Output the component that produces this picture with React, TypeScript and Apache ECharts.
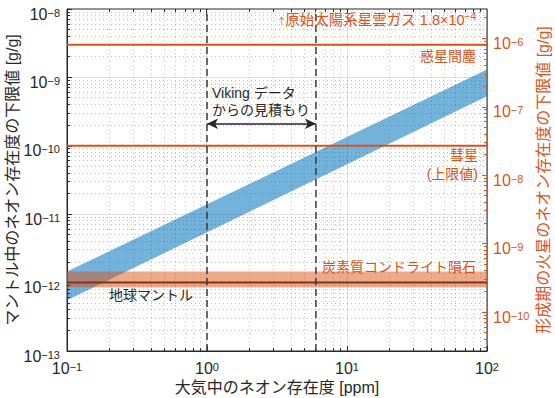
import React, { useEffect, useRef } from 'react';
import * as echarts from 'echarts';

const FONT = "'Liberation Sans', 'Noto Sans CJK JP', sans-serif";
const ORANGE = '#D95319';
const DARK = '#262626';

// axis ranges
const xRange = [0.1, 100];
const leftRange = [1e-13, 1e-8];
const rightOffsetDecades = 2.43;
const rightRange = [leftRange[0] * Math.pow(10, rightOffsetDecades), leftRange[1] * Math.pow(10, rightOffsetDecades)];

// blue band: estimate from Viking data (mantle Ne lower limit vs atmospheric Ne)
const bandX = [0.1, 100];
const bandLower = [5.5e-13, 5.3e-10];
const bandUpper = [1.45e-12, 1.3e-9];

// reference levels
const dustLimit = 3e-9;
const cometLimit = 1e-10;
const chondriteValue = 1e-12;
const chondriteRange = [0.85e-12, 1.45e-12];
const vikingRange = [1, 6];
const vikingArrowY = 2.1e-10;

// tick helpers (axis structure)
const minorOf = (lo: number, hi: number) => {
  const out: number[] = [];
  for (let e = Math.floor(Math.log10(lo) + 1e-9); e < Math.ceil(Math.log10(hi) - 1e-9); e++) {
    for (let k = 2; k <= 9; k++) {
      const v = k * Math.pow(10, e);
      if (v > lo * 1.0001 && v < hi * 0.9999) out.push(v);
    }
  }
  return out;
};
const majorOf = (lo: number, hi: number) => {
  const out: number[] = [];
  for (let e = Math.ceil(Math.log10(lo) - 1e-9); e <= Math.floor(Math.log10(hi) + 1e-9); e++) {
    const v = Math.pow(10, e);
    if (v > lo * 1.0001 && v < hi * 0.9999) out.push(v);
  }
  return out;
};
const xMinor = minorOf(xRange[0], xRange[1]);
const xMajor = majorOf(xRange[0], xRange[1]);
const yMinor = minorOf(leftRange[0], leftRange[1]);
const yMajor = majorOf(leftRange[0], leftRange[1]);
const rMinor = minorOf(rightRange[0], rightRange[1]);

const powLabel = (v: number) => {
  const e = Math.log10(v);
  const r = Math.round(e);
  if (Math.abs(e - r) > 1e-3) return '';
  return `{b|10}{s|${r < 0 ? '\u2212' + -r : r}}`;
};
const richFor = (color: string) => ({
  b: { fontSize: 16, color, fontFamily: FONT, lineHeight: 18, verticalAlign: 'bottom' },
  s: { fontSize: 11, color, fontFamily: FONT, lineHeight: 11, verticalAlign: 'top', padding: [3, 0, 12, 0] },
});

const px = (v: number) => Math.round(v - 0.5) + 0.5;

const option: any = {
  animation: false,
  backgroundColor: '#ffffff',
  textStyle: { fontFamily: FONT },
  grid: {
    left: 67, right: 68, top: 9, bottom: 47, show: true, borderColor: DARK, borderWidth: 1,
    backgroundColor: 'transparent', containLabel: false, outerBoundsMode: 'none',
  },
  xAxis: {
    type: 'log', logBase: 10, min: xRange[0], max: xRange[1],
    name: '大気中のネオン存在度 [ppm]', nameLocation: 'middle', nameGap: 28, nameMoveOverlap: false,
    nameTextStyle: { fontSize: 16, color: DARK, fontFamily: FONT },
    axisLine: { show: true, lineStyle: { color: DARK, width: 1 } },
    axisTick: { show: true, inside: true, length: 5, lineStyle: { color: DARK } },
    axisLabel: { formatter: powLabel, rich: richFor(DARK), margin: 8, interval: 0 },
    splitLine: { show: false },
  },
  yAxis: [
    {
      type: 'log', logBase: 10, min: leftRange[0], max: leftRange[1], position: 'left',
      name: 'マントル中のネオン存在度の下限値 [g/g]', nameLocation: 'middle', nameGap: 47, nameMoveOverlap: false,
      nameTextStyle: { fontSize: 16, color: DARK, fontFamily: FONT },
      axisLine: { show: true, lineStyle: { color: DARK, width: 1 } },
      axisTick: { show: true, inside: true, length: 5, lineStyle: { color: DARK } },
      axisLabel: { formatter: powLabel, rich: richFor(DARK), margin: 7, interval: 0, padding: [8, 0, 0, 0] },
      splitLine: { show: false },
    },
    {
      type: 'log', logBase: 10, min: rightRange[0], max: rightRange[1], position: 'right',
      name: '形成期の火星のネオン存在度の下限値 [g/g]', nameLocation: 'middle', nameGap: 48, nameMoveOverlap: false,
      nameTextStyle: { fontSize: 16, color: ORANGE, fontFamily: FONT },
      axisLine: { show: true, lineStyle: { color: ORANGE, width: 1 } },
      axisTick: { show: true, inside: true, length: 5, lineStyle: { color: ORANGE } },
      axisLabel: { formatter: powLabel, rich: richFor(ORANGE), margin: 6, interval: 0, showMinLabel: false, showMaxLabel: false, padding: [8, 0, 0, 0] },
      splitLine: { show: false },
    },
  ],
  series: [
    {
      type: 'custom', name: 'band', z: 1, silent: true,
      data: [[bandX[0], bandLower[0]]],
      renderItem: (params: any, api: any) => {
        const top = bandX.map((x, i) => api.coord([x, bandUpper[i]]));
        const bot = bandX.map((x, i) => api.coord([x, bandLower[i]])).reverse();
        return { type: 'polygon', shape: { points: [...top, ...bot] }, style: { fill: 'rgba(0,114,189,0.55)' } };
      },
    },
    {
      type: 'custom', name: 'chondriteBand', z: 2, silent: true,
      data: [[xRange[0], chondriteRange[0]]],
      renderItem: (params: any, api: any) => {
        const a = api.coord([xRange[0], chondriteRange[1]]);
        const b = api.coord([xRange[1], chondriteRange[0]]);
        return { type: 'rect', shape: { x: a[0], y: a[1], width: b[0] - a[0], height: b[1] - a[1] }, style: { fill: 'rgba(217,83,25,0.5)' } };
      },
    },
    {
      type: 'custom', name: 'grid', z: 3, silent: true,
      data: [[xRange[0], leftRange[0]]],
      renderItem: (params: any, api: any) => {
        const cs = params.coordSys;
        const x0 = cs.x, y0 = cs.y, x1 = cs.x + cs.width, y1 = cs.y + cs.height;
        const ch: any[] = [];
        const dotted = { stroke: 'rgba(60,60,60,0.32)', lineWidth: 1, lineDash: [1, 3] };
        const solid = { stroke: 'rgba(60,60,60,0.15)', lineWidth: 1 };
        const tick = { stroke: DARK, lineWidth: 1 };
        xMinor.forEach((v) => {
          const p = px(api.coord([v, leftRange[0]])[0]);
          ch.push({ type: 'line', shape: { x1: p, y1: y0, x2: p, y2: y1 }, style: dotted });
          ch.push({ type: 'line', shape: { x1: p, y1: y1, x2: p, y2: y1 - 3 }, style: tick });
          ch.push({ type: 'line', shape: { x1: p, y1: y0, x2: p, y2: y0 + 3 }, style: tick });
        });
        xMajor.forEach((v) => {
          const p = px(api.coord([v, leftRange[0]])[0]);
          ch.push({ type: 'line', shape: { x1: p, y1: y0, x2: p, y2: y1 }, style: solid });
          ch.push({ type: 'line', shape: { x1: p, y1: y0, x2: p, y2: y0 + 5 }, style: tick });
        });
        yMinor.forEach((v) => {
          const p = px(api.coord([xRange[0], v])[1]);
          ch.push({ type: 'line', shape: { x1: x0, y1: p, x2: x1, y2: p }, style: dotted });
          ch.push({ type: 'line', shape: { x1: x0, y1: p, x2: x0 + 3, y2: p }, style: tick });
        });
        yMajor.forEach((v) => {
          const p = px(api.coord([xRange[0], v])[1]);
          ch.push({ type: 'line', shape: { x1: x0, y1: p, x2: x1, y2: p }, style: solid });
        });
        return { type: 'group', children: ch };
      },
    },
    {
      type: 'custom', name: 'rightTicks', z: 3, silent: true, yAxisIndex: 1,
      data: [[xRange[0], rightRange[0] * 2]],
      renderItem: (params: any, api: any) => {
        const cs = params.coordSys;
        const x1 = cs.x + cs.width;
        const ch: any[] = [];
        rMinor.forEach((v) => {
          const p = px(api.coord([xRange[0], v])[1]);
          ch.push({ type: 'line', shape: { x1: x1, y1: p, x2: x1 - 3, y2: p }, style: { stroke: ORANGE, lineWidth: 1 } });
        });
        return { type: 'group', children: ch };
      },
    },
    {
      type: 'line', name: 'dust', z: 4, silent: true, showSymbol: false, symbol: 'none',
      data: [[xRange[0], dustLimit], [xRange[1], dustLimit]],
      lineStyle: { color: ORANGE, width: 2 },
    },
    {
      type: 'line', name: 'comet', z: 4, silent: true, showSymbol: false, symbol: 'none',
      data: [[xRange[0], cometLimit], [xRange[1], cometLimit]],
      lineStyle: { color: ORANGE, width: 2 },
    },
    {
      type: 'line', name: 'chondrite', z: 4, silent: true, showSymbol: false, symbol: 'none',
      data: [[xRange[0], chondriteValue], [xRange[1], chondriteValue]],
      lineStyle: { color: '#843210', width: 2 },
    },
    {
      type: 'line', name: 'vikingLo', z: 5, silent: true, showSymbol: false, symbol: 'none',
      data: [[vikingRange[0], leftRange[0]], [vikingRange[0], leftRange[1]]],
      lineStyle: { color: '#3a3a3a', width: 1.5, type: [7, 4] },
      markLine: {
        silent: true, symbol: ['arrow', 'arrow'], symbolSize: [8, 11],
        lineStyle: { color: DARK, width: 1.5, type: 'solid' },
        label: { show: false },
        data: [[{ coord: [vikingRange[0], vikingArrowY] }, { coord: [vikingRange[1], vikingArrowY] }]],
      },
    },
    {
      type: 'line', name: 'vikingHi', z: 5, silent: true, showSymbol: false, symbol: 'none',
      data: [[vikingRange[1], leftRange[0]], [vikingRange[1], leftRange[1]]],
      lineStyle: { color: '#3a3a3a', width: 1.5, type: [7, 4] },
    },
  ],
  graphic: [
    {
      type: 'text', x: 476, y: 19, z: 100, silent: true,
      style: {
        text: '{a|↑原始太陽系星雲ガス 1.8×10}{s|\u22124}', align: 'right', verticalAlign: 'middle',
        rich: {
          a: { fontSize: 14.5, fill: ORANGE, fontFamily: FONT, lineHeight: 16, verticalAlign: 'bottom' },
          s: { fontSize: 10, fill: ORANGE, fontFamily: FONT, lineHeight: 10, verticalAlign: 'top', padding: [0, 0, 10, 0] },
        },
      },
    },
    { type: 'text', x: 476, y: 56, z: 100, silent: true, style: { text: '惑星間塵', fill: ORANGE, fontSize: 14, fontFamily: FONT, align: 'right', verticalAlign: 'middle' } },
    { type: 'text', x: 478, y: 164, z: 100, silent: true, style: { text: '彗星\n(上限値)', fill: ORANGE, fontSize: 14, fontFamily: FONT, lineHeight: 19, align: 'right', verticalAlign: 'middle' } },
    { type: 'text', x: 476, y: 267, z: 100, silent: true, style: { text: '炭素質コンドライト隕石', fill: ORANGE, fontSize: 14, fontFamily: FONT, align: 'right', verticalAlign: 'middle' } },
    { type: 'text', x: 109, y: 295, z: 100, silent: true, style: { text: '地球マントル', fill: DARK, fontSize: 14, fontFamily: FONT, align: 'left', verticalAlign: 'middle' } },
    { type: 'text', x: 212, y: 101, z: 100, silent: true, style: { text: 'Viking データ\nからの見積もり', fill: DARK, fontSize: 14, fontFamily: FONT, lineHeight: 17, align: 'left', verticalAlign: 'middle' } },
  ],
};

export default function App() {
  const ref = useRef<HTMLDivElement>(null);
  useEffect(() => {
    document.body.style.margin = '0';
    const chart = echarts.init(ref.current as HTMLDivElement, undefined, { renderer: 'svg' });
    chart.setOption(option);
    return () => chart.dispose();
  }, []);
  return <div ref={ref} style={{ position: 'absolute', left: 0, top: 0, width: 555, height: 398, background: '#fff' }} />;
}
